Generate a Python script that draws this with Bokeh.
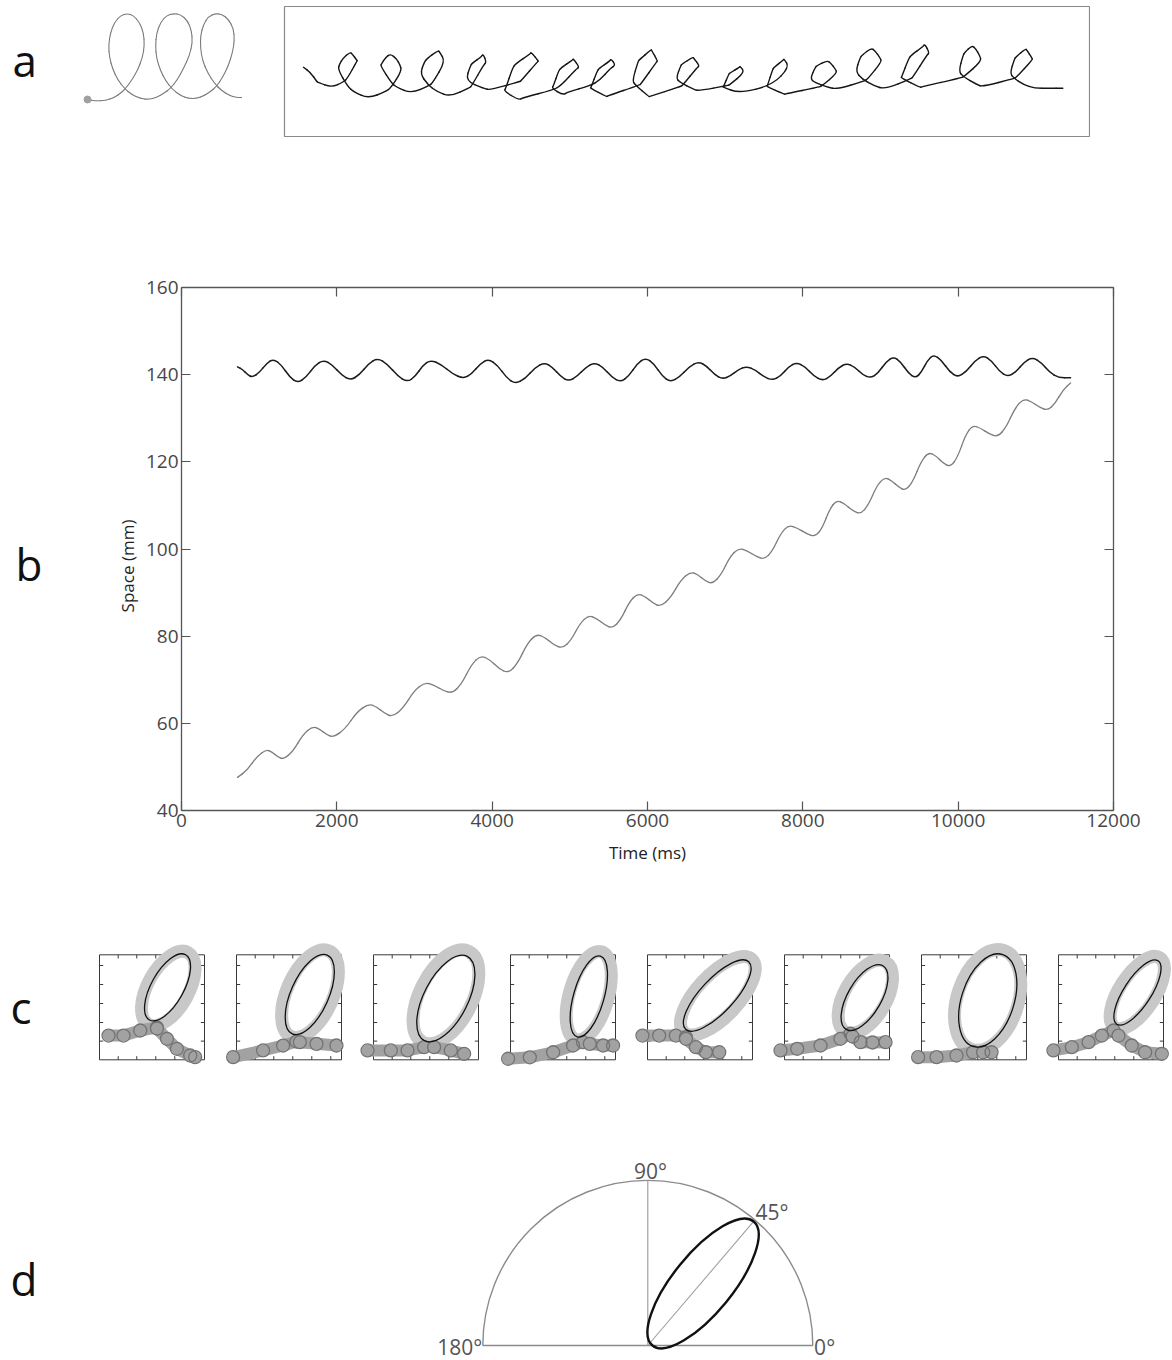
import numpy as np
from bokeh.plotting import figure
from bokeh.layouts import column, row
from bokeh.models import Range1d, LinearAxis, FixedTicker, Spacer
from bokeh.core.properties import value
from bokeh.embed import file_html
from bokeh.resources import INLINE

FONT = "Open Sans"

# ---------------- data: panel b (time series of the handwriting trace) -------------
time_black = [721, 785, 850, 914, 1004, 1095, 1185, 1288, 1391, 1494, 1605, 1717, 1828, 1944, 2060,
              2176, 2292, 2408, 2524, 2653, 2781, 2910, 3009, 3107, 3206, 3348, 3489, 3631, 3738,
              3846, 3953, 4069, 4184, 4300, 4425, 4549, 4674, 4777, 4880, 4983, 5095, 5206, 5318,
              5429, 5541, 5652, 5760, 5867, 5975, 6082, 6189, 6296, 6416, 6537, 6657, 6760, 6863,
              6966, 7069, 7172, 7275, 7387, 7498, 7610, 7713, 7816, 7919, 8031, 8142, 8254, 8357,
              8460, 8563, 8666, 8769, 8872, 8971, 9069, 9168, 9262, 9357, 9451, 9528, 9606, 9683,
              9786, 9889, 9992, 10104, 10215, 10327, 10430, 10533, 10636, 10743, 10850, 10957,
              11069, 11180, 11292, 11447]
space_black = [141.8, 141.2, 140.0, 139.4, 140.5, 142.6, 143.6, 142.2, 139.5, 138.1, 139.4, 142.1,
               143.4, 142.2, 139.9, 138.7, 140.0, 142.5, 143.8, 142.4, 139.7, 138.3, 139.6, 142.1,
               143.4, 142.3, 140.2, 139.1, 140.2, 142.5, 143.6, 142.2, 139.3, 137.9, 139.1, 141.6,
               142.8, 141.7, 139.6, 138.5, 139.6, 141.7, 142.8, 141.7, 139.4, 138.3, 139.7, 142.5,
               143.9, 142.5, 139.7, 138.3, 139.5, 141.8, 143.0, 142.0, 140.0, 139.0, 139.7, 141.2,
               141.9, 141.1, 139.5, 138.7, 139.7, 141.8, 142.8, 141.8, 139.7, 138.6, 139.6, 141.6,
               142.6, 141.8, 140.0, 139.2, 140.4, 142.9, 144.1, 142.9, 140.4, 139.2, 140.6, 143.3,
               144.6, 143.3, 140.7, 139.4, 140.7, 143.2, 144.4, 143.2, 140.7, 139.5, 140.6, 142.9,
               144.0, 142.8, 140.5, 139.3, 139.3]

time_gray = [721, 845, 970, 1094, 1167, 1240, 1313, 1438, 1562, 1687, 1777, 1867, 1957, 2107, 2258,
             2408, 2511, 2614, 2717, 2854, 2992, 3129, 3249, 3369, 3489, 3609, 3730, 3850, 3970,
             4090, 4210, 4330, 4451, 4571, 4683, 4794, 4906, 5018, 5129, 5241, 5344, 5447, 5550,
             5657, 5764, 5871, 5970, 6069, 6168, 6297, 6425, 6554, 6648, 6743, 6837, 6949, 7060,
             7172, 7284, 7395, 7507, 7610, 7713, 7816, 7932, 8047, 8163, 8253, 8344, 8434, 8537,
             8640, 8743, 8846, 8949, 9052, 9142, 9232, 9322, 9421, 9519, 9618, 9713, 9807, 9902,
             9996, 10091, 10185, 10292, 10400, 10507, 10618, 10730, 10841, 10944, 11048, 11151,
             11250, 11348, 11447]
space_gray = [47.6, 49.2, 52.4, 54.0, 53.4, 52.3, 51.7, 53.6, 57.4, 59.3, 58.7, 57.4, 56.8, 58.7,
              62.6, 64.5, 63.8, 62.3, 61.5, 63.5, 67.4, 69.4, 68.8, 67.5, 66.9, 69.1, 73.4, 75.6,
              74.6, 72.5, 71.5, 73.8, 78.3, 80.5, 79.7, 78.0, 77.2, 79.1, 82.9, 84.8, 84.1, 82.6,
              81.8, 83.8, 87.8, 89.8, 89.1, 87.6, 86.8, 88.8, 92.8, 94.8, 94.1, 92.7, 92.0, 94.1,
              98.2, 100.2, 99.6, 98.3, 97.6, 99.6, 103.5, 105.5, 104.8, 103.5, 102.8, 104.9, 109.1,
              111.2, 110.4, 108.8, 108.0, 110.1, 114.4, 116.5, 115.7, 114.2, 113.4, 115.6, 120.0,
              122.2, 121.4, 119.7, 118.8, 121.2, 126.0, 128.4, 127.7, 126.4, 125.7, 127.9, 132.3,
              134.5, 133.8, 132.5, 131.8, 133.4, 136.5, 138.1]

x_ticks = [0, 2000, 4000, 6000, 8000, 10000, 12000]
y_ticks = [40, 60, 80, 100, 120, 140, 160]

demo_x = [0, 8, 18, 27, 34, 38, 44, 50, 55, 57, 56, 52, 46, 40, 33, 27, 23, 21, 22, 25, 30, 37, 44,
          53, 61, 69, 76, 83, 90, 96, 102, 105, 104, 100, 93, 86, 79, 73, 69, 68, 69, 73, 78, 85,
          93, 101, 109, 117, 123, 129, 135, 141, 145, 147, 146, 141, 135, 128, 121, 116, 113, 113,
          115, 120, 127, 134, 142, 149, 154]
demo_y = [0, -1.5, -1, 2, 7, 11, 19, 29, 42, 54, 67, 77, 84, 86, 84, 77, 67, 54, 42, 31, 20, 11, 5,
          1, 0, 2, 6, 11, 20, 31, 44, 57, 69, 79, 85, 86, 84, 77, 66, 54, 41, 29, 19, 10, 4, 1, 1,
          4, 8, 13, 22, 34, 47, 59, 71, 80, 85, 86, 83, 75, 64, 51, 39, 27, 16, 9, 4, 2, 2]

# ---------------- data: panel c (8 loops: fitted ellipse, loop trace, entry/exit strokes) ----
c_ell_u = [0.648, 0.698, 0.689, 0.746, 0.664, 0.762, 0.631, 0.752]
c_ell_v = [0.690, 0.622, 0.584, 0.603, 0.612, 0.593, 0.565, 0.641]
c_ell_a = [0.355, 0.41, 0.45, 0.40, 0.44, 0.35, 0.46, 0.36]
c_ell_b = [0.155, 0.18, 0.21, 0.145, 0.16, 0.16, 0.25, 0.13]
c_ell_deg = [61, 66, 63, 74, 47, 60, 72, 57]

c_ring_u = [0.655, 0.70, 0.69, 0.745, 0.67, 0.77, 0.63, 0.75]
c_ring_v = [0.68, 0.63, 0.60, 0.61, 0.61, 0.60, 0.57, 0.64]
c_ring_a = [0.39, 0.445, 0.485, 0.435, 0.475, 0.385, 0.495, 0.395]
c_ring_b = [0.195, 0.22, 0.25, 0.185, 0.20, 0.20, 0.29, 0.17]

c_entry_u = [[0.086, 0.229, 0.388, 0.547], [-0.032, 0.253, 0.444, 0.571],
             [-0.057, 0.165, 0.324, 0.482], [-0.023, 0.184, 0.406, 0.596, 0.691],
             [-0.048, 0.111, 0.27, 0.366], [-0.038, 0.121, 0.343, 0.533, 0.629],
             [-0.032, 0.143, 0.333, 0.491], [-0.048, 0.127, 0.286, 0.413, 0.524]]
c_entry_v = [[0.231, 0.231, 0.279, 0.308], [0.025, 0.089, 0.136, 0.174],
             [0.089, 0.089, 0.089, 0.12], [0.01, 0.024, 0.072, 0.136, 0.168],
             [0.231, 0.231, 0.231, 0.215], [0.089, 0.105, 0.136, 0.2, 0.248],
             [0.025, 0.025, 0.041, 0.072], [0.089, 0.12, 0.168, 0.231, 0.279]]
c_exit_u = [[0.547, 0.642, 0.737, 0.864, 0.911], [0.603, 0.762, 0.952],
            [0.577, 0.736, 0.863], [0.755, 0.882, 0.977],
            [0.366, 0.461, 0.556, 0.683], [0.648, 0.724, 0.838, 0.962],
            [0.587, 0.667], [0.571, 0.698, 0.825, 0.984]]
c_exit_v = [[0.298, 0.2, 0.105, 0.041, 0.025], [0.168, 0.152, 0.136],
            [0.12, 0.089, 0.057], [0.152, 0.136, 0.136],
            [0.2, 0.12, 0.072, 0.072], [0.222, 0.168, 0.165, 0.168],
            [0.072, 0.072], [0.231, 0.136, 0.072, 0.057]]
c_box_ticks = [0.178, 0.355, 0.536, 0.717, 0.898]

# ---------------- data: panel d (mean ellipse in a half-circle protractor) ----------
d_ell_u, d_ell_v = 0.335, 0.376
d_ell_major, d_ell_minor = 0.97, 0.36
d_ell_deg = 50.8
d_angle_labels = ["0°", "45°", "90°", "180°"]


def blank(w, h, xr, yr, top=0, bottom=0):
    p = figure(width=w, height=h, x_range=Range1d(*xr), y_range=Range1d(*yr),
               x_axis_type=None, y_axis_type=None, output_backend="svg",
               toolbar_location=None, title=None, min_border_left=0, min_border_right=0,
               min_border_top=top, min_border_bottom=bottom)
    p.outline_line_color = None
    return p


def letter(w, h, frame_top, frame_bottom, txt, tx, ty, top=0, bottom=0):
    # y range given in page pixels of the frame (top -> bottom)
    p = blank(w, h, (0, w), (frame_bottom, frame_top), top, bottom)
    p.text(x=[tx], y=[ty], text=[txt], text_font=value(FONT), text_font_size="44px",
           text_baseline="middle", text_align="left", text_color="#111111")
    return p


def smooth_line(p, xs, ys, **kw):
    """Draw a polyline through the points as chained quadratic Bezier curves."""
    xs = np.asarray(xs, float)
    ys = np.asarray(ys, float)
    mx = (xs[:-1] + xs[1:]) / 2
    my = (ys[:-1] + ys[1:]) / 2
    p.quadratic(x0=mx[:-1], y0=my[:-1], x1=mx[1:], y1=my[1:], cx=xs[1:-1], cy=ys[1:-1],
                line_cap="round", **kw)
    p.segment(x0=[xs[0], mx[-1]], y0=[ys[0], my[-1]], x1=[mx[0], xs[-1]], y1=[my[0], ys[-1]],
              line_cap="round", **kw)


# ---------------- row a (all plots: height 140, frame from y=6 to y=136) ----------------
la = letter(78, 140, 6, 136, "a", 12, 59, top=6, bottom=4)
pa_small = blank(190, 140, (-9, 181), (99 - 136, 99 - 6), top=6, bottom=4)
smooth_line(pa_small, demo_x, demo_y, line_color="#7a7a7a", line_width=1.1)
pa_small.scatter([demo_x[0]], [demo_y[0]], size=7, marker="circle",
                 fill_color="#a0a0a0", line_color="#a0a0a0")

s = 8.39  # px per mm
x0 = 47.6 - 19 / s
y1 = 141.3 + 65 / s
pa_box = figure(width=807, height=140, x_range=Range1d(x0, x0 + 805 / s),
                y_range=Range1d(y1 - 130 / s, y1), x_axis_type=None, y_axis_type=None,
                output_backend="svg", toolbar_location=None, title=None,
                min_border_left=1, min_border_right=1, min_border_top=6, min_border_bottom=4)
pa_box.outline_line_color = "#8a8a8a"
pa_box.outline_line_width = 1.2
t_all = np.union1d(time_gray, time_black)
traj_x = np.interp(t_all, time_gray, space_gray)
traj_y = np.interp(t_all, time_black, space_black)
smooth_line(pa_box, traj_x, traj_y, line_color="#151515", line_width=1.4)

row_a = row(la, pa_small, Spacer(width=15, height=140), pa_box)

# ---------------- row b (frame from y=287 to y=810) ----------------
lb = letter(140, 740, 287, 810, "b", 15, 563, top=147, bottom=70)
lb.text(x=[127], y=[565.5], text=["Space (mm)"], angle=np.pi / 2, text_font=value(FONT),
        text_font_size="17px", text_align="center", text_baseline="middle", text_color="#222222")
pb = figure(width=1032, height=740, x_range=Range1d(0, 12000), y_range=Range1d(40, 160),
            output_backend="svg", toolbar_location=None, title=None,
            min_border_left=41, min_border_right=59, min_border_top=147, min_border_bottom=70)
pb.outline_line_color = None
pb.grid.visible = False
ax_bottom = pb.xaxis[0]
ax_left = pb.yaxis[0]
ax_top = LinearAxis()
ax_right = LinearAxis()
pb.add_layout(ax_top, "above")
pb.add_layout(ax_right, "right")
for ax in [ax_bottom, ax_top]:
    ax.ticker = FixedTicker(ticks=x_ticks)
for ax in [ax_left, ax_right]:
    ax.ticker = FixedTicker(ticks=y_ticks)
for ax in [ax_bottom, ax_left, ax_top, ax_right]:
    ax.major_tick_in = 9
    ax.major_tick_out = 0
    ax.minor_tick_line_color = None
    ax.axis_line_color = "#555555"
    ax.axis_line_width = 1.3
    ax.major_tick_line_color = "#555555"
    ax.major_tick_line_width = 1.2
    ax.major_label_text_font = FONT
    ax.major_label_text_font_size = "19px"
    ax.major_label_text_color = "#474747"
for ax in [ax_top, ax_right]:
    ax.major_label_text_color = None
ax_bottom.major_label_standoff = 3
ax_left.major_label_standoff = 3
ax_bottom.axis_label = "Time (ms)"
ax_bottom.axis_label_text_font = FONT
ax_bottom.axis_label_text_font_size = "17px"
ax_bottom.axis_label_text_font_style = "normal"
ax_bottom.axis_label_text_color = "#222222"
ax_bottom.axis_label_standoff = 11
smooth_line(pb, time_black, space_black, line_color="#1c1c1c", line_width=1.5)
smooth_line(pb, time_gray, space_gray, line_color="#7e7e7e", line_width=1.3)
row_b = row(lb, pb)

# ---------------- row c ----------------
lc = letter(85, 220, 880, 1100, "c", 10, 1006)
U = 105.0
c_figs = [lc]
for i in range(8):
    w = 137 if i < 7 else 128
    p = blank(w, 220, (-14 / U, (w - 14) / U), (-40.7 / U, 1 + 74.3 / U))
    p.rect(x=0.5, y=0.5, width=1, height=1, fill_color=None, line_color="#3a3a3a", line_width=1)
    tk = np.array(c_box_ticks)
    L = 0.035
    n = len(tk)
    p.segment(x0=np.zeros(n), y0=tk, x1=np.full(n, L), y1=tk, line_color="#3a3a3a", line_width=1)
    p.segment(x0=np.ones(n), y0=tk, x1=np.full(n, 1 - L), y1=tk, line_color="#3a3a3a", line_width=1)
    p.segment(x0=tk, y0=np.ones(n), x1=tk, y1=np.full(n, 1 - L), line_color="#3a3a3a", line_width=1)
    p.segment(x0=tk, y0=np.zeros(n), x1=tk, y1=np.full(n, L), line_color="#3a3a3a", line_width=1)
    p.ellipse(x=c_ring_u[i], y=c_ring_v[i], width=2 * c_ring_a[i], height=2 * c_ring_b[i],
              angle=np.radians(c_ell_deg[i]), fill_color=None, line_color="#c8c8c8", line_width=13)
    for su, sv in ((c_entry_u[i], c_entry_v[i]), (c_exit_u[i], c_exit_v[i])):
        p.line(su, sv, line_color="#a2a2a2", line_width=12, line_cap="round", line_join="round")
        p.scatter(su, sv, size=13, marker="circle", fill_color=None,
                  line_color="#737373", line_width=1.3)
    p.ellipse(x=c_ell_u[i], y=c_ell_v[i], width=2 * c_ell_a[i], height=2 * c_ell_b[i],
              angle=np.radians(c_ell_deg[i]), fill_color=None, line_color="#111111", line_width=1.3)
    c_figs.append(p)
row_c = row(*c_figs)

# ---------------- row d ----------------
ld = letter(92, 260, 1100, 1360, "d", 10, 1278)
R = 165.0
pdd = blank(500, 260, (-247.3 / R, 252.7 / R), (-15 / R, 245 / R))
pdd.arc(x=0, y=0, radius=1, start_angle=0, end_angle=np.pi, line_color="#8c8c8c", line_width=1.4)
pdd.segment(x0=-1, y0=0, x1=1, y1=0, line_color="#8c8c8c", line_width=1.6)
pdd.segment(x0=0, y0=0, x1=0, y1=1, line_color="#9a9a9a", line_width=1.1)
th = np.radians(d_ell_deg)
tip_x = d_ell_u + d_ell_major / 2 * np.cos(th)
tip_y = d_ell_v + d_ell_major / 2 * np.sin(th)
pdd.segment(x0=0, y0=0, x1=tip_x, y1=tip_y, line_color="#a0a0a0", line_width=1.1)
pdd.ellipse(x=d_ell_u, y=d_ell_v, width=d_ell_major, height=d_ell_minor, angle=th,
            fill_color=None, line_color="#111111", line_width=2.4)
lab_kw = dict(text_font=value(FONT), text_font_size="21px", text_color="#555555")
pdd.text(x=[1.008], y=[-1 / R], text=[d_angle_labels[0]], text_align="left", text_baseline="middle", **lab_kw)
pdd.text(x=[0.653], y=[0.725], text=[d_angle_labels[1]], text_align="left", text_baseline="bottom", **lab_kw)
pdd.text(x=[0.016], y=[0.972], text=[d_angle_labels[2]], text_align="center", text_baseline="bottom", **lab_kw)
pdd.text(x=[-1.004], y=[-1 / R], text=[d_angle_labels[3]], text_align="right", text_baseline="middle", **lab_kw)
row_d = row(ld, Spacer(width=308, height=260), pdd)

page = column(row_a, row_b, row_c, row_d)
open("out.html", "w").write(file_html(page, INLINE))
